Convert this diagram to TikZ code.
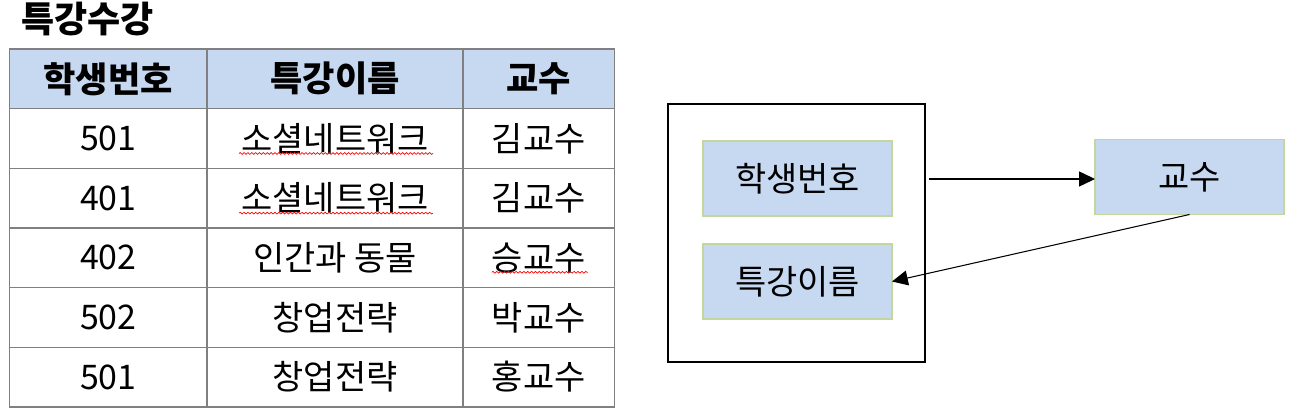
\documentclass[tikz,border=0pt]{standalone}
\usepackage{fontspec}
\setmainfont{Noto Sans CJK KR}
\usetikzlibrary{
  positioning,
  arrows.meta,
  calc,
  decorations.pathmorphing
}
\definecolor{headbg}{RGB}{198,217,241}
\definecolor{boxborder}{RGB}{195,214,155}
\definecolor{gridline}{RGB}{128,128,128}

\begin{document}
\begin{tikzpicture}[
      font=\fontsize{19.3}{23}\selectfont,
      >={Triangle[length=9pt,width=8.5pt]},
      cell/.style={
        rectangle,
        draw=gridline,
        line width=0.75pt,
        inner sep=0pt,
        outer sep=0pt,
        minimum height=1.193cm
      },
      numcol/.style={cell, minimum width=3.95cm},
      leccol/.style={cell, minimum width=5.12cm},
      profcol/.style={cell, minimum width=3.03cm},
      head/.style={
        fill=headbg,
        font=\fontsize{20}{24}\selectfont\bfseries
      },
      attr/.style={
        rectangle,
        draw=boxborder,
        fill=headbg,
        line width=0.6pt,
        minimum width=3.78cm,
        minimum height=1.5cm,
        inner sep=0pt,
        outer sep=0pt
      },
      group/.style={
        rectangle,
        draw=black,
        line width=0.75pt,
        minimum width=5.14cm,
        minimum height=5.16cm
      },
      flow/.style={
        ->,
        line width=0.6pt
      },
      spell/.style={
        red,
        line width=0.4pt,
        decorate,
        decoration={snake, amplitude=0.5pt, segment length=2.2pt}
      }
    ]

    \useasboundingbox (0,0) rectangle (25.92,-8.26);

    % Table
    \node[anchor=west, inner sep=0pt, font=\fontsize{20.5}{24}\selectfont\bfseries]
      (title) at (0.42,-0.38) {특강수강};

    \node[numcol, head, anchor=north west] (num0) at (0.19,-0.98) {학생번호};
    \node[leccol, head, right=0pt of num0] (lec0) {특강이름};
    \node[profcol, head, right=0pt of lec0] (prof0) {교수};

    \foreach \sid/\lname/\pname [count=\r] in {
        501/소셜네트워크/김교수,
        401/소셜네트워크/김교수,
        402/인간과 동물/승교수,
        502/창업전략/박교수,
        501/창업전략/홍교수} {
      \pgfmathtruncatemacro{\p}{\r-1}
      \node[numcol, below=0pt of num\p] (num\r) {\sid};
      \node[leccol, right=0pt of num\r] (lec\r) {\lname};
      \node[profcol, right=0pt of lec\r] (prof\r) {\pname};
    }

    \draw[spell] ($(lec1.center)+(-1.92,-0.3)$) -- ($(lec1.center)+(1.96,-0.3)$);
    \draw[spell] ($(lec2.center)+(-1.92,-0.3)$) -- ($(lec2.center)+(1.96,-0.3)$);
    \draw[spell] ($(prof3.center)+(-0.94,-0.29)$) -- ($(prof3.center)+(0.98,-0.29)$);

    % Dependency diagram
    \node[group] (rel) at (15.93,-4.66) {};
    \node[attr] (hakbun) at (15.95,-3.57) {학생번호};
    \node[attr, below=0.56cm of hakbun] (tkname) {특강이름};
    \node[attr] (gyosu) at (23.79,-3.54) {교수};

    \coordinate (port1) at ($(rel.east |- hakbun)+(0.06,-0.01)$);
    \draw[flow] (port1) -- (port1 -| gyosu.west);
    \draw[flow] (gyosu.south) -- (tkname.east);

    \end{tikzpicture}
\end{document}
